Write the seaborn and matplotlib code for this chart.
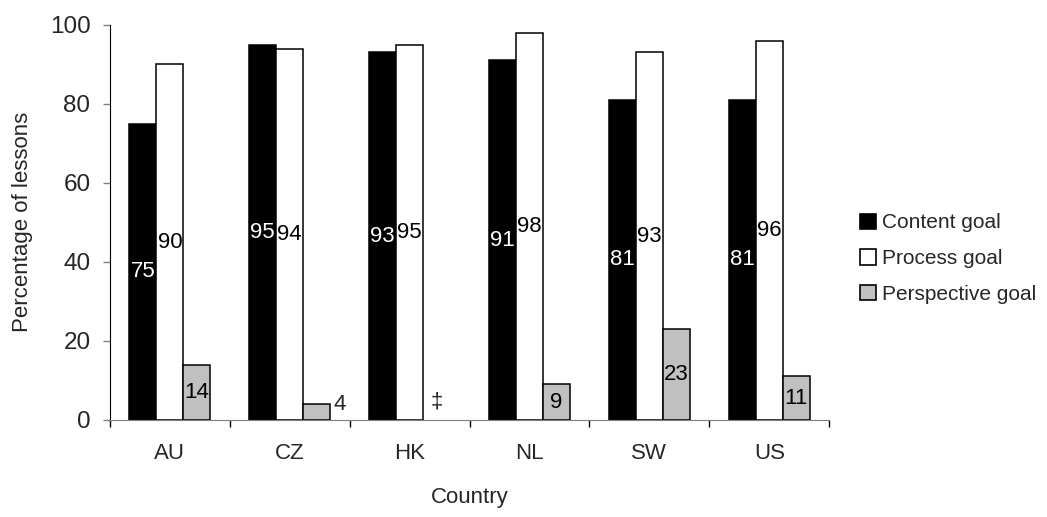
import numpy as np
import pandas as pd
import seaborn as sns
import matplotlib.pyplot as plt
from matplotlib.patches import Patch

countries = ['AU', 'CZ', 'HK', 'NL', 'SW', 'US']
goals = ['Content goal', 'Process goal', 'Perspective goal']
content = [75, 95, 93, 91, 81, 81]
process = [90, 94, 95, 98, 93, 96]
perspective = [14, 4, np.nan, 9, 23, 11]  # HK not reported

colors = ['#000000', '#ffffff', '#c0c0c0']

df = pd.DataFrame({
    'Country': countries * 3,
    'Goal': [g for g in goals for _ in countries],
    'Value': content + process + perspective,
})

sns.set_style('white')
plt.rcParams['font.family'] = ['Liberation Sans', 'DejaVu Sans']

fig = plt.figure(figsize=(10.47, 5.17), dpi=100)
ax = fig.add_axes([0.105, 0.188, 0.687, 0.764])

sns.barplot(data=df, x='Country', y='Value', hue='Goal', order=countries,
            hue_order=goals, palette=colors, width=0.675, edgecolor='black',
            linewidth=1.1, saturation=1, errorbar=None, legend=False, ax=ax)

# data labels
series = [content, process, perspective]
for i, cont in enumerate(ax.containers):
    vals = series[i]
    done = set()
    for bar in cont:
        cx = bar.get_x() + bar.get_width() / 2
        idx = int(round(cx))
        done.add(idx)
        v = vals[idx]
        if v < 6:
            ax.text(bar.get_x() + bar.get_width() + 0.03, v / 2 + 1.8, f'{v:g}',
                    ha='left', va='center', fontsize=16)
            continue
        ax.text(cx, v / 2, f'{v:g}', ha='center', va='center', fontsize=16,
                color='white' if i == 0 else 'black')
    # missing values
    offset = (i - 1) * 0.675 / 3
    for idx, v in enumerate(vals):
        if idx not in done and np.isnan(v):
            ax.text(idx + offset, 4.5, '\u2021', ha='center', va='center', fontsize=16)

ax.set_ylim(0, 100)
ax.set_xlim(-0.5, 5.5)
ax.set_yticks([0, 20, 40, 60, 80, 100])
ax.set_xticks(np.arange(-0.5, 6, 1), minor=True)
ax.tick_params(axis='x', which='major', length=0, pad=17, labelsize=16)
ax.tick_params(axis='x', which='minor', length=5, width=1, direction='out', bottom=True,
               color='black')
ax.tick_params(axis='y', length=5, width=1, direction='out', left=True, labelsize=17.5,
               pad=9, color='#808080')
ax.set_xlabel('Country', fontsize=16, labelpad=16)
ax.set_ylabel('Percentage of lessons', fontsize=16, labelpad=12)

sns.despine(ax=ax)
ax.spines['left'].set_color('black')
ax.spines['bottom'].set_color('#808080')

handles = [Patch(facecolor=c, edgecolor='black', linewidth=1.2) for c in colors]
ax.legend(handles, goals, loc='center left', bbox_to_anchor=(1.017, 0.408),
          frameon=False, fontsize=15, handlelength=0.75, handleheight=0.75,
          handletextpad=0.28, labelspacing=0.8)

fig.savefig('out.png', dpi=100)
